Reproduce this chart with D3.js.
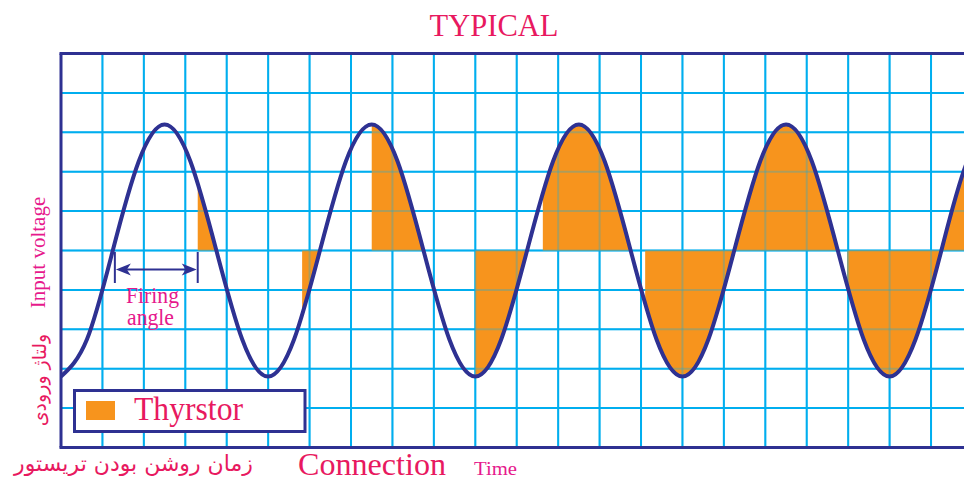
<!DOCTYPE html>
<html>
<head>
<meta charset="utf-8">
<script src="https://cdn.jsdelivr.net/npm/d3@7"></script>
<style>
  html, body { margin: 0; padding: 0; background: #ffffff; overflow: hidden; }
  svg { display: block; }
</style>
</head>
<body>
<svg id="chart" width="964" height="481"></svg>
<script>
// ---------------- DATA ----------------
const title = "TYPICAL";
const legendLabel = "Thyrstor";
const yLabelEn = "Input voltage";
const yLabelFa = "ولتاژ ورودی";
const xLabelFa = "زمان روشن بودن تریستور";
const xLabelEn = "Connection";
const xLabelTime = "Time";
const firingLabel = ["Firing", "angle"];

// grid ticks (time in grid cells, voltage in grid cells)
const xGridTicks = [1, 2, 3, 4, 5, 6, 7, 8, 9, 10, 11, 12, 13, 14, 15, 16, 17, 18, 19, 20, 21, 22];
const yGridTicks = [-4, -3, -2, -1, 0, 1, 2, 3, 4];

const waveT = [0, 0.625, 1.25, 1.875, 2.5, 3.125, 3.75, 4.375, 5, 5.625, 6.25, 6.875, 7.5, 8.125, 8.75, 9.375,
  10, 10.625, 11.25, 11.875, 12.5, 13.125, 13.75, 14.375, 15, 15.625, 16.25, 16.875, 17.5, 18.125, 18.75,
  19.375, 20, 20.625, 21.25, 21.875, 22.5];
const waveV = [-3.2, -2.26, 0, 2.26, 3.2, 2.26, 0, -2.26, -3.2, -2.26, 0, 2.26, 3.2, 2.26, 0, -2.26,
  -3.2, -2.26, 0, 2.26, 3.2, 2.26, 0, -2.26, -3.2, -2.26, 0, 2.26, 3.2, 2.26, 0,
  -2.26, -3.2, -2.26, 0, 2.26, 3.2];

// thyristor conduction intervals (start = firing instant, end = zero crossing)
const fireStart = [3.3, 5.82, 7.5, 10.0, 11.63, 14.1, 16.25, 18.98, 21.25];
const fireEnd   = [3.75, 6.25, 8.75, 11.25, 13.75, 16.25, 18.75, 21.25, 22.5];

// firing-angle annotation (from zero crossing to firing instant)
const firingAngle = [1.3, 3.3];

// ---------------- DRAWING ----------------
const C = {
  frame: "#2e3192", curve: "#2e3192", grid: "#00aeef", fill: "#f7941d",
  crimson: "#e8195f", magenta: "#e6198c"
};
const SERIF = "'Liberation Serif', 'Times New Roman', serif";
const svg = d3.select("#chart");
const pLeft = 61, pTop = 53.5, pBottom = 447.5, cell = 41.43;

const x = d3.scaleLinear().domain([0, 22]).range([pLeft, pLeft + 22 * cell]);
const y = d3.scaleLinear().domain([-5, 5]).range([pBottom, pTop]);

const pts = waveT.map((t, i) => [t, waveV[i]]);

// clip for the conduction intervals
const defs = svg.append("defs");
const clip = defs.append("clipPath").attr("id", "fireClip");
clip.selectAll("rect").data(fireStart).join("rect")
  .attr("x", (d) => x(d))
  .attr("y", pTop)
  .attr("width", (d, i) => x(fireEnd[i]) - x(d))
  .attr("height", pBottom - pTop);

const plotClip = defs.append("clipPath").attr("id", "plotClip");
plotClip.append("rect").attr("x", pLeft).attr("y", pTop).attr("width", 964 - pLeft).attr("height", pBottom - pTop);

function drawGrid(g, opacity) {
  g.selectAll("line.v").data(xGridTicks).join("line").attr("class", "v")
    .attr("x1", (d) => x(d)).attr("x2", (d) => x(d))
    .attr("y1", pTop).attr("y2", pBottom)
    .attr("stroke", C.grid).attr("stroke-width", 2).attr("stroke-opacity", opacity);
  g.selectAll("line.h").data(yGridTicks).join("line").attr("class", "h")
    .attr("x1", pLeft).attr("x2", 964)
    .attr("y1", (d) => y(d)).attr("y2", (d) => y(d))
    .attr("stroke", C.grid).attr("stroke-width", 2).attr("stroke-opacity", opacity);
}

drawGrid(svg.append("g"), 1);

// thyristor conduction fill
const area = d3.area().curve(d3.curveNatural)
  .x((d) => x(d[0])).y0(y(0)).y1((d) => y(d[1]));
svg.append("g").attr("clip-path", "url(#plotClip)")
  .append("path")
  .datum(pts)
  .attr("clip-path", "url(#fireClip)")
  .attr("d", area)
  .attr("fill", C.fill);

// grid faintly visible through fill
drawGrid(svg.append("g"), 0.3);

// frame
svg.append("line").attr("x1", pLeft).attr("x2", pLeft).attr("y1", pTop).attr("y2", pBottom)
  .attr("stroke", C.frame).attr("stroke-width", 3);
svg.append("line").attr("x1", pLeft - 1.5).attr("x2", 964).attr("y1", pTop).attr("y2", pTop)
  .attr("stroke", C.frame).attr("stroke-width", 3);
svg.append("line").attr("x1", pLeft - 1.5).attr("x2", 964).attr("y1", pBottom).attr("y2", pBottom)
  .attr("stroke", C.frame).attr("stroke-width", 3);

// input voltage curve
const line = d3.line().curve(d3.curveNatural).x((d) => x(d[0])).y((d) => y(d[1]));
svg.append("g").attr("clip-path", "url(#plotClip)")
  .append("path").datum(pts)
  .attr("d", line)
  .attr("fill", "none")
  .attr("stroke", C.curve)
  .attr("stroke-width", 4);

// firing angle annotation
const fa = svg.append("g");
const xa = x(firingAngle[0]), xb = x(firingAngle[1]);
const ay = 269.5;
fa.selectAll("line.tick").data(firingAngle).join("line").attr("class", "tick")
  .attr("x1", (d) => x(d)).attr("x2", (d) => x(d))
  .attr("y1", 252).attr("y2", 283)
  .attr("stroke", C.curve).attr("stroke-width", 2);
fa.append("line").attr("x1", xa + 10).attr("x2", xb - 10).attr("y1", ay).attr("y2", ay)
  .attr("stroke", C.curve).attr("stroke-width", 2);
fa.append("path").attr("d", `M${xa + 1},${ay} L${xa + 16},${ay - 6} L${xa + 12},${ay} L${xa + 16},${ay + 6} Z`)
  .attr("fill", C.curve);
fa.append("path").attr("d", `M${xb - 1},${ay} L${xb - 16},${ay - 6} L${xb - 12},${ay} L${xb - 16},${ay + 6} Z`)
  .attr("fill", C.curve);
const faLen = [53, 47];
fa.selectAll("text").data(firingLabel).join("text")
  .attr("x", (d, i) => 126 + i)
  .attr("y", (d, i) => 303 + i * 21.5)
  .attr("font-family", SERIF)
  .attr("font-size", 24)
  .attr("textLength", (d, i) => faLen[i])
  .attr("lengthAdjust", "spacingAndGlyphs")
  .attr("fill", C.magenta)
  .text((d) => d);

// legend
const lg = svg.append("g");
lg.append("rect").attr("x", 74.5).attr("y", 390.5).attr("width", 230.5).attr("height", 41)
  .attr("fill", "#ffffff").attr("stroke", C.frame).attr("stroke-width", 3);
lg.append("rect").attr("x", 86).attr("y", 401).attr("width", 29).attr("height", 19).attr("fill", C.fill);
lg.append("text").attr("x", 134).attr("y", 420)
  .attr("font-family", SERIF)
  .attr("font-size", 34).attr("textLength", 109).attr("lengthAdjust", "spacingAndGlyphs")
  .attr("fill", C.crimson).text(legendLabel);

// title
svg.append("text").attr("x", 429.5).attr("y", 35.5)
  .attr("font-family", SERIF)
  .attr("font-size", 31).attr("textLength", 129).attr("lengthAdjust", "spacingAndGlyphs")
  .attr("fill", C.crimson).text(title);

// y labels
svg.append("text").attr("transform", "translate(45,252.5) rotate(-90)")
  .attr("text-anchor", "middle")
  .attr("font-family", SERIF)
  .attr("font-size", 21).attr("fill", C.magenta).text(yLabelEn);
svg.append("text").attr("transform", "translate(46,380) rotate(-90)")
  .attr("text-anchor", "middle")
  .attr("font-family", "'DejaVu Sans', sans-serif")
  .attr("font-size", 19).attr("fill", C.crimson).text(yLabelFa);

// x labels
svg.append("text").attr("x", 133.5).attr("y", 471).attr("text-anchor", "middle")
  .attr("font-family", "'DejaVu Sans', sans-serif")
  .attr("font-size", 22).attr("fill", C.crimson).text(xLabelFa);
svg.append("text").attr("x", 298).attr("y", 475)
  .attr("font-family", SERIF)
  .attr("font-size", 32).attr("textLength", 148).attr("lengthAdjust", "spacingAndGlyphs")
  .attr("fill", C.crimson).text(xLabelEn);
svg.append("text").attr("x", 474).attr("y", 475)
  .attr("font-family", SERIF)
  .attr("font-size", 19).attr("textLength", 43).attr("lengthAdjust", "spacingAndGlyphs")
  .attr("fill", C.magenta).text(xLabelTime);
</script>
</body>
</html>
